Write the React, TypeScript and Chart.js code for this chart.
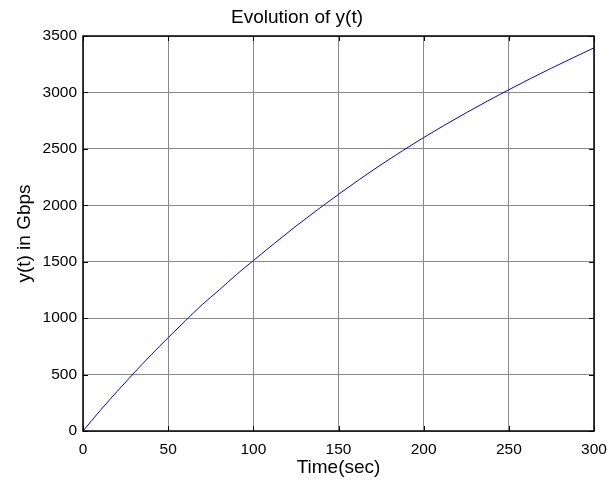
import React, { useEffect, useRef } from "react";
import { Chart, registerables } from "chart.js";

Chart.register(...registerables);

const timeSec = [0, 10, 20, 30, 40, 50, 60, 70, 80, 90, 100, 125, 150, 175, 200, 225, 250, 275, 300];
const yGbps = [0, 180, 350, 515, 675, 827, 975, 1120, 1250, 1385, 1510, 1815, 2097, 2360, 2600, 2820, 3024, 3215, 3395];
const xTicks = [0, 50, 100, 150, 200, 250, 300];
const yTicks = [0, 500, 1000, 1500, 2000, 2500, 3000, 3500];

const FONT = "'Liberation Sans', Arial, Helvetica, sans-serif";

const boxPlugin = {
  id: "matlabBox",
  afterDraw(chart: any) {
    const { ctx, chartArea } = chart;
    const { left, right, top, bottom } = chartArea;
    const xs = chart.scales.x;
    const ys = chart.scales.y;
    ctx.save();
    ctx.strokeStyle = "#000";
    ctx.lineWidth = 1;
    const tl = 5;
    ctx.beginPath();
    xTicks.forEach((v) => {
      const px = Math.round(xs.getPixelForValue(v)) + 0.5;
      ctx.moveTo(px, bottom);
      ctx.lineTo(px, bottom - tl);
      ctx.moveTo(px, top);
      ctx.lineTo(px, top + tl);
    });
    yTicks.forEach((v) => {
      const py = Math.round(ys.getPixelForValue(v)) + 0.5;
      ctx.moveTo(left, py);
      ctx.lineTo(left + tl, py);
      ctx.moveTo(right, py);
      ctx.lineTo(right - tl, py);
    });
    ctx.stroke();
    ctx.lineWidth = 1.5;
    ctx.strokeRect(left, top, right - left, bottom - top);
    ctx.restore();
  },
};

export default function App() {
  const ref = useRef<HTMLCanvasElement | null>(null);
  useEffect(() => {
    if (!ref.current) return;
    const chart = new Chart(ref.current, {
      type: "line",
      data: {
        datasets: [
          {
            data: timeSec.map((t, i) => ({ x: t, y: yGbps[i] })),
            borderColor: "#0000ff",
            borderWidth: 1,
            pointRadius: 0,
            cubicInterpolationMode: "monotone",
            fill: false,
          },
        ],
      },
      options: {
        animation: false,
        responsive: true,
        maintainAspectRatio: false,
        layout: { padding: { left: 0, right: 22, top: 0, bottom: 0 } },
        plugins: {
          legend: { display: false },
          tooltip: { enabled: false },
          title: {
            display: true,
            text: "Evolution of y(t)",
            color: "#000",
            font: { family: FONT, size: 19, weight: "normal" },
            padding: { top: 6.4, bottom: 6.8 },
          },
        },
        scales: {
          x: {
            type: "linear",
            min: 0,
            max: 300,
            afterFit: (s: any) => {
              s.height = 53;
            },
            afterBuildTicks: (s: any) => {
              s.ticks = xTicks.map((v) => ({ value: v }));
            },
            ticks: {
              color: "#000",
              font: { family: FONT, size: 15.5 },
              padding: 9,
              maxRotation: 0,
              callback: (v: any) => String(v),
            },
            grid: { color: "#8a8a8a", lineWidth: 1, drawTicks: false },
            border: { display: false },
            title: {
              display: true,
              text: "Time(sec)",
              color: "#000",
              font: { family: FONT, size: 19 },
              padding: { top: 0, bottom: 5 },
            },
          },
          y: {
            type: "linear",
            min: 0,
            max: 3500,
            afterFit: (s: any) => {
              s.width = 83;
            },
            afterBuildTicks: (s: any) => {
              s.ticks = yTicks.map((v) => ({ value: v }));
            },
            ticks: {
              color: "#000",
              font: { family: FONT, size: 15.5 },
              padding: 6,
              callback: (v: any) => String(v),
            },
            grid: { color: "#8a8a8a", lineWidth: 1, drawTicks: false },
            border: { display: false },
            title: {
              display: true,
              text: "y(t) in Gbps",
              color: "#000",
              font: { family: FONT, size: 19 },
              padding: { top: 13.6, bottom: 0 },
            },
          },
        },
      },
      plugins: [boxPlugin],
    });
    return () => chart.destroy();
  }, []);

  return (
    <div style={{ position: "fixed", left: 0, top: 0, width: 616, height: 484, background: "#fff" }}>
      <canvas ref={ref} />
    </div>
  );
}
